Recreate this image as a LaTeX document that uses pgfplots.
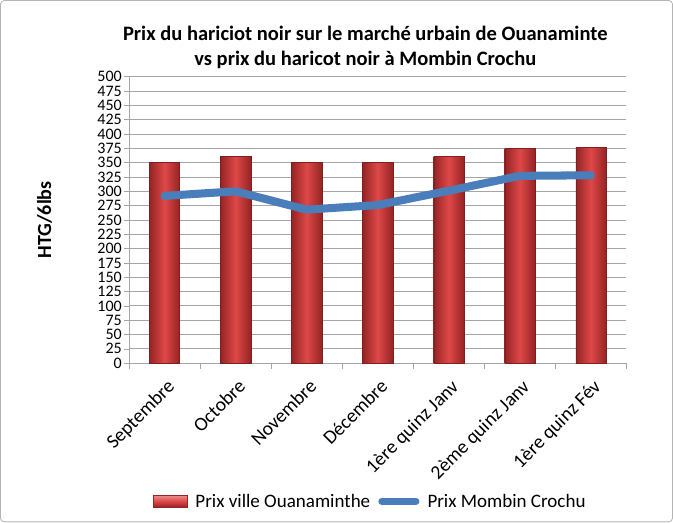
\documentclass[border=0pt]{standalone}
\usepackage{fontspec}
\setmainfont{Carlito}
\usepackage{pgfplots}
\pgfplotsset{compat=1.18}
\definecolor{barmid}{RGB}{222,72,72}
\definecolor{baredge}{RGB}{150,36,36}
\definecolor{lineblue}{RGB}{74,126,187}
\definecolor{gridgray}{RGB}{165,165,165}
\definecolor{framegray}{RGB}{180,180,180}

\pgfplotsset{
  redbar/.style={ybar, bar width=30bp, draw=baredge!85!black, line width=0.3bp,
    left color=baredge, right color=baredge, middle color=barmid},
}

\begin{document}
\begin{tikzpicture}[x=1bp,y=1bp]
  % chart frame, sets the page size
  \draw[framegray, rounded corners=4bp, line width=0.8bp] (2,-2) rectangle (671,-521);
  \begin{axis}[
    at={(130bp,-363bp)}, anchor=south west,
    scale only axis,
    width=495bp, height=285bp,
    xmin=-0.5, xmax=6.5,
    ymin=0, ymax=500,
    ytick={0,25,...,500},
    xtick={0,...,6},
    xticklabels={Septembre, Octobre, Novembre, Décembre, 1ère quinz Janv, 2ème quinz Janv, 1ère quinz Fév},
    minor xtick={-0.5,0.5,...,6.5},
    major x tick style={draw=none},
    tick align=outside,
    major tick length=5bp, minor tick length=6bp,
    tick style={gridgray, line width=0.6bp},
    ymajorgrids,
    grid style={gridgray, line width=0.8bp},
    axis x line*=bottom, axis y line*=left,
    axis line style={gridgray, line width=0.8bp, -},
    /pgf/number format/assume math mode=true,
    yticklabel style={font=\fontsize{16}{16}\selectfont, inner xsep=2bp, inner ysep=0bp},
    xticklabel style={font=\fontsize{19.5}{19.5}\selectfont, rotate=45, anchor=north east,
      inner sep=1bp, xshift=-5bp, yshift=-7bp},
    title={Prix du hariciot noir sur le marché urbain de Ouanaminte\\vs prix du haricot noir à Mombin Crochu},
    title style={at={(axis description cs:0.475,1.08)}, anchor=center, align=center,
      font=\bfseries\fontsize{20.5}{25}\selectfont},
    ylabel={HTG/6lbs},
    ylabel style={at={(axis description cs:-0.17,0.5)}, anchor=center, rotate=0,
      font=\bfseries\fontsize{20}{20}\selectfont},
    legend columns=2,
    legend style={at={(axis description cs:0.485,-0.482)}, anchor=center, draw=none, fill=none,
      font=\fontsize{19}{19}\selectfont, column sep=6bp, inner sep=0bp},
  ]
    \addplot[redbar,
      legend image code/.code={\draw[draw=baredge, left color=barmid!60!white, right color=baredge, middle color=barmid, shading angle=0] (0bp,-6bp) rectangle (34bp,6bp);}]
      coordinates {(0,351)};
    \addlegendentry{Prix ville Ouanaminthe}
    \addplot[redbar, forget plot] coordinates {(1,361)};
    \addplot[redbar, forget plot] coordinates {(2,351)};
    \addplot[redbar, forget plot] coordinates {(3,351)};
    \addplot[redbar, forget plot] coordinates {(4,361)};
    \addplot[redbar, forget plot] coordinates {(5,375)};
    \addplot[redbar, forget plot] coordinates {(6,377)};
    \addplot[lineblue, line width=8bp, line join=round, line cap=round,
      legend image code/.code={\draw[lineblue, line width=7bp, line cap=round] (3bp,0bp) -- (37bp,0bp);}]
      coordinates {(0,292)(1,300)(2,268)(3,276)(4,301)(5,327)(6,328)};
    \addlegendentry{Prix Mombin Crochu}
  \end{axis}
\end{tikzpicture}
\end{document}
